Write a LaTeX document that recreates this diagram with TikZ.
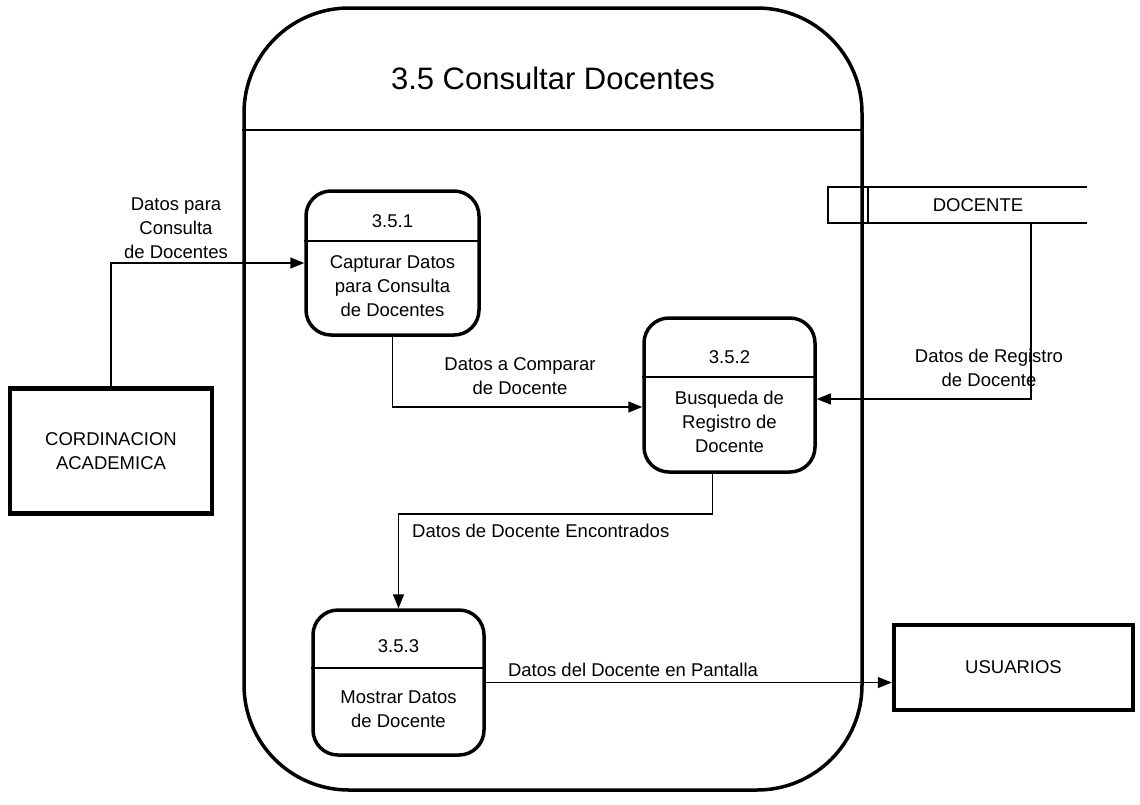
\documentclass[tikz,border=0pt]{standalone}
\usepackage{fontspec}
\setmainfont{Liberation Sans}
\usetikzlibrary{arrows.meta,positioning}

\begin{document}
\begin{tikzpicture}[x=1pt,y=-1pt,font=\fontsize{18.5}{24}\selectfont,
 extent/.style={draw,line width=4.5pt,minimum width=202pt,minimum height=125pt,align=center},
 proc/.style={draw,line width=3.5pt,rounded corners=25pt,minimum width=172pt,minimum height=136pt},
 flow/.style={line width=1.5pt},
 lbl/.style={align=center,inner sep=0pt,font=\fontsize{18.5}{24}\selectfont},>={Triangle[length=14pt,width=11pt]}]
\useasboundingbox (0,0) rectangle (1140,804);
% proceso padre
\node[draw,line width=3.5pt,rounded corners=105pt,minimum width=618pt,minimum height=782pt] (sys) at (553,399) {};
\node[font=\fontsize{31}{36}\selectfont] (title) at (553,78) {3.5 Consultar Docentes};
\draw[flow] (sys.west |- 0,130) -- (sys.east |- 0,130);
% entidades externas
\node[extent] (cord) at (111,451) {CORDINACION\\ACADEMICA};
\node[extent,minimum width=239pt,minimum height=85pt] (usr) at (1013.5,667.5) {USUARIOS};
% almacen
\node[draw,line width=1.5pt,minimum width=40pt,minimum height=36pt,inner sep=0pt] (dsid) at (848,205) {};
\node[minimum width=218pt,minimum height=36pt] (doc) at (978,205) {DOCENTE};
\draw[flow] (doc.north west) -- (doc.north east) (doc.south west) -- (doc.south east);
% subprocesos
\node[proc,minimum width=173pt,minimum height=144pt] (p1) at (392.5,263) {};
\node (p1n) at (392.5,221) {3.5.1};
\draw[flow] (p1.west |- 0,241) -- (p1.east |- 0,241);
\node[lbl] (p1t) at (392.5,286) {Capturar Datos\\para Consulta\\de Docentes};
\node[proc,minimum width=171pt,minimum height=154pt] (p2) at (729.5,395) {};
\node (p2n) at (729.5,357) {3.5.2};
\draw[flow] (p2.west |- 0,377) -- (p2.east |- 0,377);
\node[lbl] (p2t) at (729.5,422) {Busqueda de\\Registro de\\Docente};
\node[proc,minimum width=171pt,minimum height=145pt] (p3) at (398.5,682.5) {};
\node (p3n) at (398.5,646) {3.5.3};
\draw[flow] (p3.west |- 0,668) -- (p3.east |- 0,668);
\node[lbl] (p3t) at (398.5,709) {Mostrar Datos\\de Docente};
% flujos
\draw[flow,->] (cord.north) |- (p1.west);
\draw[flow,->] (p1.south) |- ([yshift=-12pt]p2.west);
\draw[flow,->] (doc.south -| 1031,0) |- ([yshift=-4pt]p2.east);
\draw[flow,->] ([xshift=-17pt]p2.south) -- ++(0,40) -| (p3.north);
\draw[flow,->] (p3.east) -- (p3.east -| usr.west);
\node[lbl] (l1) at (176,228) {Datos para\\Consulta\\de Docentes};
\node[lbl] (l2) at (520,376) {Datos a Comparar\\de Docente};
\node[lbl] (l3) at (989,368) {Datos de Registro\\de Docente};
\node[lbl,anchor=west] (l4) at (412,531) {Datos de Docente Encontrados};
\node[lbl] (l5) at (633,670) {Datos del Docente en Pantalla};
\end{tikzpicture}
\end{document}
